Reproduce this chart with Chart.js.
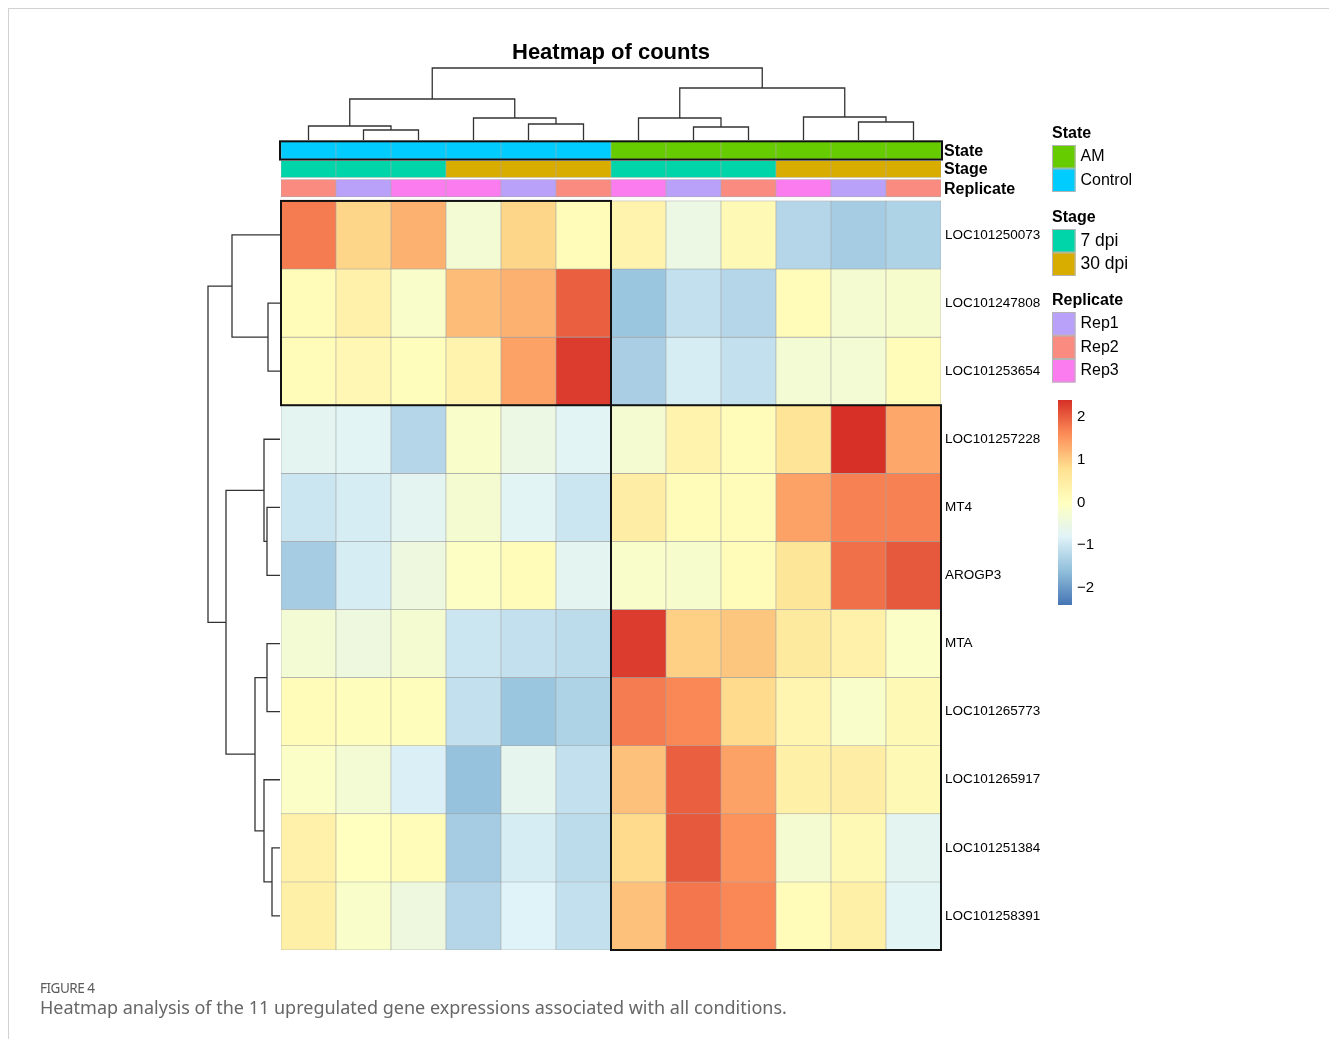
<!DOCTYPE html>
<html>
<head>
<meta charset="utf-8">
<title>Heatmap of counts</title>
<script src="https://cdn.jsdelivr.net/npm/chart.js@4.4.1/dist/chart.umd.min.js"></script>
<style>
  html, body { margin: 0; padding: 0; background: #fff; }
  #wrap { position: relative; width: 1329px; height: 1039px; overflow: hidden; }
  #frame { position: absolute; left: 8px; top: 8px; width: 1340px; height: 1050px;
           border-top: 1px solid #d2d2d2; border-left: 1px solid #d2d2d2; }
  #chartBox { position: absolute; left: 0; top: 0; width: 1329px; height: 1039px; }
  .capHead { position: absolute; left: 40px; top: 979px; font: 13.5px "Noto Sans", sans-serif;
             color: #5a5a5a; letter-spacing: -0.5px; }
  .capText { position: absolute; left: 40px; top: 995px; font: 18px "Noto Sans", sans-serif;
             color: #666; }
</style>
</head>
<body>
<div id="wrap">
  <div id="frame"></div>
  <div id="chartBox"><canvas id="heatmap"></canvas></div>
  <div class="capHead">FIGURE 4</div>
  <div class="capText">Heatmap analysis of the 11 upregulated gene expressions associated with all conditions.</div>
</div>
<script>
// sample annotations, in column order of the clustered heatmap
const states     = ['Control','Control','Control','Control','Control','Control','AM','AM','AM','AM','AM','AM'];
const stages     = ['7 dpi','7 dpi','7 dpi','30 dpi','30 dpi','30 dpi','7 dpi','7 dpi','7 dpi','30 dpi','30 dpi','30 dpi'];
const replicates = ['Rep2','Rep1','Rep3','Rep3','Rep1','Rep2','Rep3','Rep1','Rep2','Rep3','Rep1','Rep2'];

const genes = ['LOC101250073','LOC101247808','LOC101253654','LOC101257228','MT4','AROGP3',
               'MTA','LOC101265773','LOC101265917','LOC101251384','LOC101258391'];

// row-scaled counts (z-scores)
const zLOC101250073 = [1.75, 0.90, 1.25, -0.30, 0.90, 0.10, 0.30, -0.50, 0.15, -1.25, -1.40, -1.30];
const zLOC101247808 = [0.10, 0.35, -0.15, 1.15, 1.25, 2.00, -1.50, -1.10, -1.25, 0.10, -0.25, -0.20];
const zLOC101253654 = [0.10, 0.20, 0.05, 0.30, 1.40, 2.30, -1.35, -0.90, -1.10, -0.30, -0.30, 0.10];
const zLOC101257228 = [-0.70, -0.75, -1.25, -0.15, -0.50, -0.75, -0.25, 0.30, 0.10, 0.70, 2.45, 1.35];
const zMT4          = [-1.00, -0.90, -0.70, -0.25, -0.75, -1.00, 0.45, 0.10, 0.10, 1.40, 1.70, 1.70];
const zAROGP3       = [-1.40, -0.90, -0.45, -0.05, 0.10, -0.70, -0.15, -0.20, 0.10, 0.65, 1.85, 2.05];
const zMTA          = [-0.30, -0.45, -0.25, -1.00, -1.10, -1.15, 2.30, 0.95, 1.05, 0.55, 0.35, -0.10];
const zLOC101265773 = [0.10, 0.05, 0.05, -1.10, -1.50, -1.30, 1.75, 1.65, 0.85, 0.25, -0.15, 0.15];
const zLOC101265917 = [-0.10, -0.30, -0.85, -1.55, -0.65, -1.10, 1.10, 2.00, 1.40, 0.40, 0.45, 0.15];
const zLOC101251384 = [0.35, 0.00, 0.10, -1.40, -0.90, -1.15, 0.85, 2.05, 1.55, -0.25, 0.15, -0.70];
const zLOC101258391 = [0.40, -0.15, -0.45, -1.25, -0.80, -1.10, 1.10, 1.80, 1.65, 0.10, 0.40, -0.75];
const zRows = [zLOC101250073, zLOC101247808, zLOC101253654, zLOC101257228, zMT4, zAROGP3,
               zMTA, zLOC101265773, zLOC101265917, zLOC101251384, zLOC101258391];

// hclust style merges: negative = leaf (1-based), positive = earlier merge
const colMerge   = [[-2,-3],[-1,1],[-5,-6],[-4,3],[2,4],[-8,-9],[-7,6],[-11,-12],[-10,8],[7,9],[5,10]];
const colHeights = [1.0, 1.4, 1.6, 2.2, 4.1, 1.3, 2.2, 1.8, 2.3, 5.2, 7.2];
const rowMerge   = [[-2,-3],[-1,1],[-5,-6],[-4,3],[-7,-8],[-10,-11],[-9,6],[5,7],[4,8],[2,9]];
const rowHeights = [1.2, 4.8, 1.3, 1.6, 1.3, 0.8, 1.6, 2.5, 5.4, 7.2];

const legendTicks = [2, 1, 0, -1, -2];

// colours
const stateColors = { 'AM': '#66CC00', 'Control': '#00CCFF' };
const stageColors = { '7 dpi': '#00D5AA', '30 dpi': '#D9AC00' };
const repColors   = { 'Rep1': '#B9A1F9', 'Rep2': '#F98B80', 'Rep3': '#FB7CEE' };
const rampStops = ['#4575B4','#91BFDB','#E0F3F8','#FFFFBF','#FEE090','#FC8D59','#D73027'];
const zMin = -2.4, zMax = 2.4;

function hexToRgb(h) {
  return [1, 3, 5].map(i => parseInt(h.substr(i, 2), 16));
}
function heatColor(v) {
  let t = (v - zMin) / (zMax - zMin);
  t = Math.max(0, Math.min(1, t)) * (rampStops.length - 1);
  const i = Math.min(Math.floor(t), rampStops.length - 2);
  const f = t - i;
  const a = hexToRgb(rampStops[i]), b = hexToRgb(rampStops[i + 1]);
  const c = a.map((x, k) => Math.round(x + (b[k] - x) * f));
  return 'rgb(' + c.join(',') + ')';
}

const sampleLabels = states.map((s, i) => s + ' ' + stages[i] + ' ' + replicates[i]);

const cellStyle = { borderSkipped: false, grouped: false, barPercentage: 1, categoryPercentage: 1 };

const heatSets = genes.map((g, r) => Object.assign({
  label: g,
  data: zRows[r].map(() => [r, r + 1]),
  backgroundColor: zRows[r].map(heatColor),
  borderColor: '#a0a0a0',
  borderWidth: 0.6
}, cellStyle));

// annotation tracks sit above row 0
const annoTracks = [
  { name: 'State',     values: states,     colors: stateColors, span: [-0.868, -0.615] },
  { name: 'Stage',     values: stages,     colors: stageColors, span: [-0.59, -0.345] },
  { name: 'Replicate', values: replicates, colors: repColors,   span: [-0.315, -0.06] }
];
const annoSets = annoTracks.map(t => Object.assign({
  label: t.name,
  data: t.values.map(() => t.span),
  backgroundColor: t.values.map(v => t.colors[v]),
  borderColor: '#a8a8a8',
  borderWidth: 0.6
}, cellStyle));

function drawTree(ctx, merge, heights, leafAt, place) {
  const nodes = [];
  const get = k => k < 0 ? { c: leafAt(-k - 1), h: 0 } : nodes[k - 1];
  merge.forEach(([a, b], i) => {
    const A = get(a), B = get(b), h = heights[i];
    const p = [place(A.c, A.h), place(A.c, h), place(B.c, h), place(B.c, B.h)];
    ctx.beginPath();
    ctx.moveTo(p[0][0], p[0][1]);
    for (let k = 1; k < 4; k++) ctx.lineTo(p[k][0], p[k][1]);
    ctx.stroke();
    nodes.push({ c: (A.c + B.c) / 2, h: h });
  });
}

const extras = {
  id: 'heatmapExtras',
  afterDatasetsDraw(chart) {
    const { ctx, chartArea: area, scales: { x, y } } = chart;
    const half = (x.getPixelForValue(1) - x.getPixelForValue(0)) / 2;
    const colL = i => x.getPixelForValue(i) - half;
    const colR = i => x.getPixelForValue(i) + half;
    const treeUnit = 10;
    ctx.save();

    // cluster boxes and state track outline
    ctx.strokeStyle = '#111';
    ctx.lineWidth = 2;
    const box = (c0, c1, y0, y1) => {
      const top = y.getPixelForValue(y0), bot = y.getPixelForValue(y1);
      ctx.strokeRect(colL(c0), top, colR(c1) - colL(c0), bot - top);
    };
    box(0, 5, 0, 3);
    box(6, 11, 3, 11);
    ctx.strokeRect(colL(0) - 1, y.getPixelForValue(annoTracks[0].span[0]) - 0.5,
                   colR(11) - colL(0) + 2, y.getPixelForValue(annoTracks[0].span[1]) - y.getPixelForValue(annoTracks[0].span[0]) + 1);

    // dendrograms
    ctx.strokeStyle = '#333';
    ctx.lineWidth = 1.3;
    const topBase = area.top - 1;
    drawTree(ctx, colMerge, colHeights, i => x.getPixelForValue(i), (c, h) => [c, topBase - h * treeUnit]);
    const leftBase = area.left - 1;
    drawTree(ctx, rowMerge, rowHeights, i => y.getPixelForValue(i + 0.5), (c, h) => [leftBase - h * treeUnit, c]);

    // title
    ctx.fillStyle = '#000';
    ctx.font = 'bold 22px "Liberation Sans", Arial, sans-serif';
    ctx.textAlign = 'center';
    ctx.textBaseline = 'middle';
    ctx.fillText('Heatmap of counts', (area.left + area.right) / 2, 53);

    // row labels
    ctx.textAlign = 'left';
    ctx.font = '13.5px "Liberation Sans", Arial, sans-serif';
    genes.forEach((g, r) => ctx.fillText(g, area.right + 4, y.getPixelForValue(r + 0.5)));
    ctx.font = 'bold 16px "Liberation Sans", Arial, sans-serif';
    annoTracks.forEach(t => ctx.fillText(t.name, area.right + 3, y.getPixelForValue((t.span[0] + t.span[1]) / 2) + 1));

    // annotation legend
    const lx = 1052, sw = 23.5;
    const groups = [
      { title: 'State', top: 134, first: 145, colors: stateColors, font: '16px' },
      { title: 'Stage', top: 218, first: 229, colors: stageColors, font: '17.5px' },
      { title: 'Replicate', top: 301, first: 312, colors: repColors, font: '16px' }
    ];
    groups.forEach(gr => {
      ctx.font = 'bold 16px "Liberation Sans", Arial, sans-serif';
      ctx.fillStyle = '#000';
      ctx.fillText(gr.title, lx, gr.top);
      Object.keys(gr.colors).forEach((k, i) => {
        const sy = gr.first + i * sw;
        ctx.fillStyle = gr.colors[k];
        ctx.fillRect(lx, sy, sw, sw);
        ctx.strokeStyle = '#b4b4b4';
        ctx.lineWidth = 1;
        ctx.strokeRect(lx + 0.5, sy + 0.5, sw - 1, sw - 1);
        ctx.fillStyle = '#000';
        ctx.font = gr.font + ' "Liberation Sans", Arial, sans-serif';
        ctx.fillText(k, lx + sw + 5, sy + sw / 2);
      });
    });

    // colour bar
    const cbTop = 400, cbBot = 605, cbX = 1058, cbW = 14;
    const grad = ctx.createLinearGradient(0, cbTop, 0, cbBot);
    rampStops.slice().reverse().forEach((c, i) => grad.addColorStop(i / (rampStops.length - 1), c));
    ctx.fillStyle = grad;
    ctx.fillRect(cbX, cbTop, cbW, cbBot - cbTop);
    ctx.fillStyle = '#000';
    ctx.font = '15px "Liberation Sans", Arial, sans-serif';
    legendTicks.forEach(v => {
      const ty = cbTop + (zMax - v) / (zMax - zMin) * (cbBot - cbTop);
      ctx.fillText(v < 0 ? '\u2212' + Math.abs(v) : String(v), cbX + cbW + 5, ty);
    });
    ctx.restore();
  }
};

new Chart(document.getElementById('heatmap'), {
  type: 'bar',
  data: { labels: sampleLabels, datasets: annoSets.concat(heatSets) },
  options: {
    responsive: true,
    maintainAspectRatio: false,
    animation: false,
    layout: { padding: { left: 281, right: 388, top: 141, bottom: 89 } },
    plugins: { legend: { display: false }, tooltip: { enabled: false }, title: { display: false } },
    scales: {
      x: { type: 'category', display: false, offset: true },
      y: { type: 'linear', display: false, min: -0.88, max: 11, reverse: true }
    }
  },
  plugins: [extras]
});
</script>
</body>
</html>
